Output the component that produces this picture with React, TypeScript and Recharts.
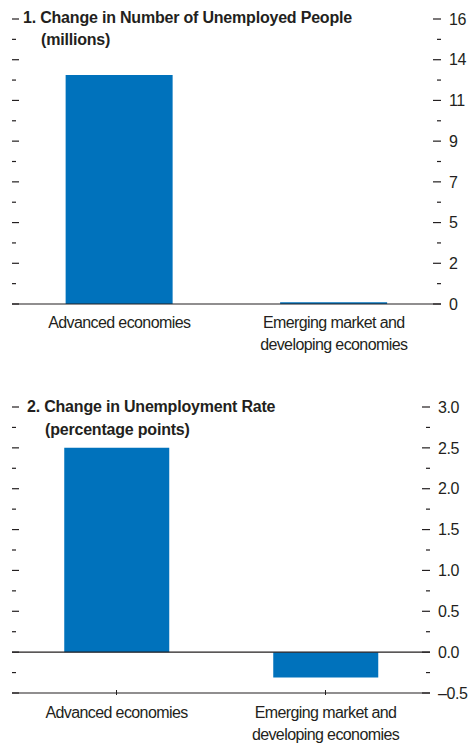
import React from "react";
import {
  ComposedChart,
  Bar,
  Line,
  XAxis,
  YAxis,
  ReferenceLine,
} from "recharts";

const categories = ["Advanced economies", "Emerging market and developing economies"];
const categoryLines = [["Advanced economies"], ["Emerging market and", "developing economies"]];
const unemployedChange = [12.85, 0.1];
const rateChange = [2.5, -0.31];

const topTickLabels = ["0", "2", "5", "7", "9", "11", "14", "16"];
const bottomTickLabels = ["–0.5", "0.0", "0.5", "1.0", "1.5", "2.0", "2.5", "3.0"];

const FONT = "'Liberation Sans Narrow', 'Arial Narrow', 'Liberation Sans', sans-serif";
const INK = "#231f20";
const BLUE = "#0072bc";

const topData = categories.map((c, i) => ({ name: c, value: unemployedChange[i] }));
const bottomData = categories.map((c, i) => ({ name: c, value: rateChange[i] }));

// majors plus a minor tick halfway between each pair
const buildTicks = (min: number, max: number, count: number) => {
  const step = (max - min) / (count - 1);
  const out: number[] = [];
  for (let i = 0; i < (count - 1) * 2 + 1; i++) out.push(min + (i * step) / 2);
  return out;
};

const topTicks = buildTicks(0, 16, topTickLabels.length);
const bottomTicks = buildTicks(-0.5, 3.0, bottomTickLabels.length);

const RightTick = (labels: string[]) => (props: any) => {
  const { x, y, index } = props;
  const major = index % 2 === 0;
  return (
    <g>
      <line x1={major ? x - 8 : x - 4} x2={x} y1={y} y2={y} stroke={INK} strokeWidth={1.2} />
      {major && (
        <text x={x + 8} y={y} dy="0.36em" fontSize={16} fill={INK} fontFamily={FONT} letterSpacing={-0.4}>
          {labels[index / 2]}
        </text>
      )}
    </g>
  );
};

const LeftTick = (props: any) => {
  const { x, y, index } = props;
  const major = index % 2 === 0;
  return <line x1={x} x2={major ? x + 7 : x + 4} y1={y} y2={y} stroke={INK} strokeWidth={1.2} />;
};

const CategoryTick = (withMark: boolean, firstDy: number) => (props: any) => {
  const { x, y, index } = props;
  const lines = categoryLines[index] || [];
  return (
    <g>
      {withMark && <line x1={x} x2={x} y1={y - 5} y2={y} stroke={INK} strokeWidth={1} />}
      {lines.map((l, i) => (
        <text
          key={i}
          x={x}
          y={y + firstDy + i * 22}
          textAnchor="middle"
          fontSize={16}
          fill={INK}
          fontFamily={FONT}
          letterSpacing={-0.6}
        >
          {l}
        </text>
      ))}
    </g>
  );
};

const titleStyle: React.CSSProperties = {
  position: "absolute",
  fontFamily: FONT,
  fontWeight: 700,
  fontSize: 16,
  color: INK,
  whiteSpace: "nowrap",
  lineHeight: "22px",
  letterSpacing: -0.2,
};

const App: React.FC = () => {
  return (
    <div style={{ position: "absolute", left: 0, top: 0, width: 473, height: 744, background: "#fff" }}>
      <div style={{ position: "absolute", left: 0, top: 0 }}>
        <ComposedChart
          width={473}
          height={360}
          data={topData}
          margin={{ top: 19, right: 0, bottom: 0, left: 11 }}
          barCategoryGap="25%"
        >
          <XAxis
            dataKey="name"
            height={56}
            tickLine={false}
            tickSize={0}
            axisLine={{ stroke: INK, strokeWidth: 1.2 }}
            interval={0}
            tick={CategoryTick(false, 22)}
          />
          <YAxis
            yAxisId="left"
            orientation="left"
            width={1}
            domain={[0, 16]}
            ticks={topTicks}
            interval={0}
            axisLine={false}
            tickLine={false}
            tickSize={0}
            tickMargin={0}
            tick={LeftTick}
          />
          <YAxis
            yAxisId="right"
            orientation="right"
            width={32}
            domain={[0, 16]}
            ticks={topTicks}
            interval={0}
            axisLine={false}
            tickLine={false}
            tickSize={0}
            tickMargin={0}
            tick={RightTick(topTickLabels)}
          />
          <Bar yAxisId="right" dataKey="value" fill={BLUE} isAnimationActive={false} />
          <Line yAxisId="left" dataKey="value" stroke="none" strokeOpacity={0} dot={false} activeDot={false} isAnimationActive={false} />
        </ComposedChart>
      </div>
      <div style={{ ...titleStyle, left: 23, top: 7 }}>1. Change in Number of Unemployed People</div>
      <div style={{ ...titleStyle, left: 41, top: 29 }}>(millions)</div>

      <div style={{ position: "absolute", left: 0, top: 360 }}>
        <ComposedChart
          width={473}
          height={384}
          data={bottomData}
          margin={{ top: 47, right: 0, bottom: 0, left: 11 }}
          barCategoryGap="25%"
        >
          <XAxis
            dataKey="name"
            height={51}
            tickLine={false}
            tickSize={0}
            axisLine={{ stroke: INK, strokeWidth: 1.2 }}
            interval={0}
            tick={CategoryTick(true, 23)}
          />
          <YAxis
            yAxisId="left"
            orientation="left"
            width={1}
            domain={[-0.5, 3.0]}
            ticks={bottomTicks}
            interval={0}
            axisLine={false}
            tickLine={false}
            tickSize={0}
            tickMargin={0}
            tick={LeftTick}
          />
          <YAxis
            yAxisId="right"
            orientation="right"
            width={43}
            domain={[-0.5, 3.0]}
            ticks={bottomTicks}
            interval={0}
            axisLine={false}
            tickLine={false}
            tickSize={0}
            tickMargin={0}
            tick={RightTick(bottomTickLabels)}
          />
          <ReferenceLine yAxisId="right" y={0} stroke={INK} strokeWidth={1.2} />
          <Bar yAxisId="right" dataKey="value" fill={BLUE} isAnimationActive={false} />
          <Line yAxisId="left" dataKey="value" stroke="none" strokeOpacity={0} dot={false} activeDot={false} isAnimationActive={false} />
        </ComposedChart>
      </div>
      <div style={{ ...titleStyle, left: 27, top: 396 }}>2. Change in Unemployment Rate</div>
      <div style={{ ...titleStyle, left: 45, top: 419 }}>(percentage points)</div>
    </div>
  );
};

export default App;
